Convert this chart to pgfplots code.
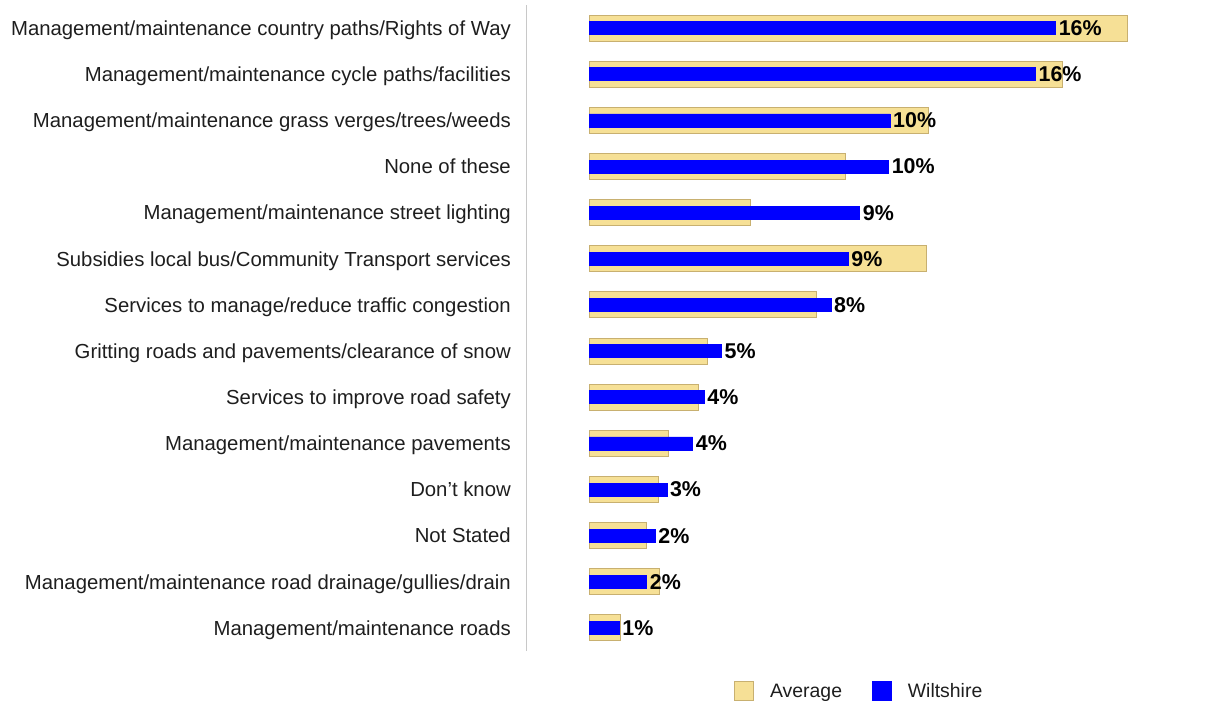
\documentclass[border=0pt]{standalone}
\usepackage{pgfplots}
\usepackage{pgfplotstable}
\pgfplotsset{compat=1.18}
\usepackage{fontspec}
\setmainfont{Liberation Sans}
\definecolor{avgfill}{RGB}{246,224,150}
\definecolor{avgdraw}{RGB}{200,176,112}
\definecolor{wblue}{RGB}{0,0,255}
\definecolor{txt}{RGB}{30,30,30}
\definecolor{axisgray}{RGB}{200,200,200}
\pgfplotstableread{
i avg w lab
0 18.7 16.2 16
1 16.45 15.5 16
2 11.8 10.45 10
3 8.9 10.4 10
4 5.6 9.4 9
5 11.7 9.0 9
6 7.9 8.4 8
7 4.1 4.6 5
8 3.8 4.0 4
9 2.75 3.6 4
10 2.4 2.7 3
11 2.0 2.3 2
12 2.45 2.0 2
13 1.1 1.05 1
}\data
\begin{document}
\begin{tikzpicture}
\path[use as bounding box] (0bp,0bp) rectangle (1211bp,701bp);
\begin{axis}[
  at={(526bp,50bp)}, anchor=south west,
  scale only axis, width=674bp, height=646bp,
  xmin=-2.1875, xmax=21.215, ymin=-0.5, ymax=13.5,
  y dir=reverse,
  xbar, bar shift=0pt,
  axis line style={draw=none},
  xtick=\empty,
  ytick={0,...,13},
  yticklabels={Management/maintenance country paths/Rights of Way,
    Management/maintenance cycle paths/facilities,
    Management/maintenance grass verges/trees/weeds,
    None of these,
    Management/maintenance street lighting,
    Subsidies local bus/Community Transport services,
    Services to manage/reduce traffic congestion,
    Gritting roads and pavements/clearance of snow,
    Services to improve road safety,
    Management/maintenance pavements,
    Don't know,
    Not Stated,
    Management/maintenance road drainage/gullies/drain,
    Management/maintenance roads},
  major tick length=0pt,
  yticklabel style={font=\fontsize{20.4}{24}\selectfont, text=txt, inner sep=0pt, anchor=base east, xshift=-15bp, yshift=-7.3bp},
  legend columns=2,
  legend style={at={(0.4945,-0.0625)}, anchor=center, draw=none, fill=none,
    font=\fontsize{19.5}{23}\selectfont, text=txt,
    /tikz/every even column/.append style={column sep=28bp},
    /tikz/every odd column/.append style={column sep=14bp}},
  legend image code/.code={\draw[#1,line width=0.8bp] (0bp,-9.5bp) rectangle (19bp,9.5bp);},
]
\draw[axisgray, line width=1bp] (rel axis cs:0,0) -- (rel axis cs:0,1);
\addplot[fill=avgfill, draw=avgdraw, line width=0.9bp, bar width=26bp] table[x=avg, y=i] {\data};
\addplot[fill=wblue, draw=wblue, line width=0.5bp, bar width=13bp,
  nodes near coords={\pgfplotspointmeta\%}, point meta=explicit symbolic,
  nodes near coords style={font=\bfseries\fontsize{21.5}{24}\selectfont, anchor=west, inner sep=3bp, text=black}]
  table[x=w, y=i, meta=lab] {\data};
\legend{Average, Wiltshire}
\end{axis}
\end{tikzpicture}
\end{document}
